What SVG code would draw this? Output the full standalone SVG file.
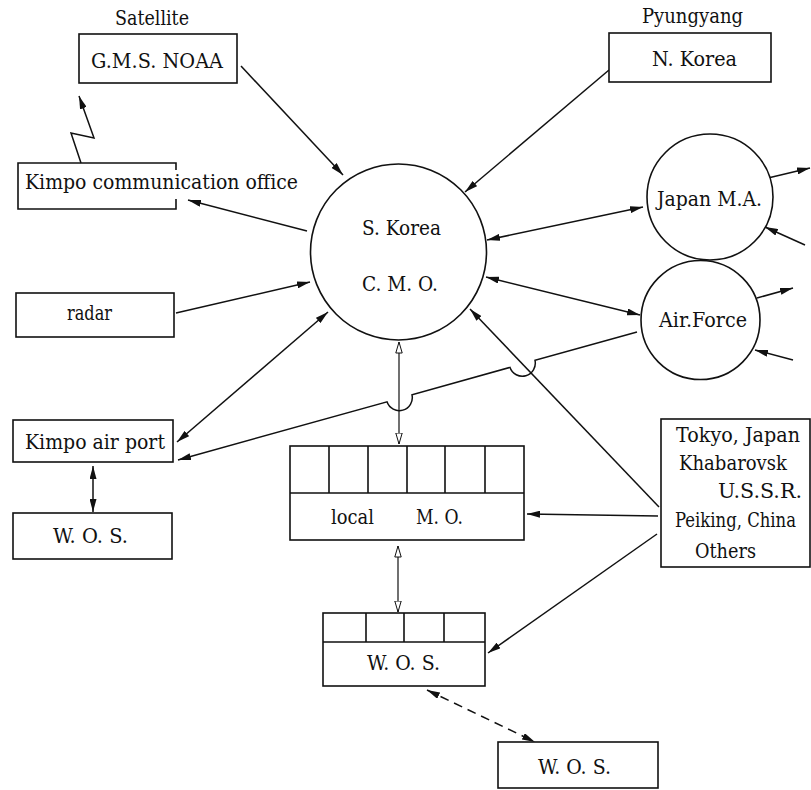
<svg xmlns="http://www.w3.org/2000/svg" width="811" height="790" viewBox="0 0 811 790">
<style>
text{font-family:'DejaVu Serif','Liberation Serif',serif;font-size:21px;fill:#111}
.b{fill:#fff;stroke:#111;stroke-width:1.6}
.c{fill:none;stroke:#111;stroke-width:1.5}
.a{marker-end:url(#ah)}
.d{marker-start:url(#ah);marker-end:url(#ah)}
.h{marker-start:url(#hh);marker-end:url(#hh)}
</style>
<defs>
<marker id="ah" viewBox="0 0 13 7" refX="13" refY="3.5" markerWidth="13" markerHeight="7" markerUnits="userSpaceOnUse" orient="auto-start-reverse">
<path d="M0,0 L13,3.5 L0,7 Z" fill="#111"/>
</marker>
<marker id="hh" viewBox="0 0 12 8" refX="11.5" refY="4" markerWidth="12" markerHeight="8" markerUnits="userSpaceOnUse" orient="auto-start-reverse">
<path d="M0.5,0.8 L11.5,4 L0.5,7.2 Z" fill="#fff" stroke="#111" stroke-width="1"/>
</marker>
</defs>

<g id="connectors">
<line class="c a" x1="241" y1="66" x2="343" y2="175"/>
<line class="c a" x1="609" y1="70" x2="465" y2="192"/>
<line class="c a" x1="307" y1="231" x2="188" y2="200"/>
<line class="c d" x1="487" y1="240" x2="643" y2="207"/>
<line class="c d" x1="486" y1="277" x2="640" y2="315"/>
<line class="c a" x1="176" y1="313" x2="310" y2="282"/>
<line class="c d" x1="328" y1="312" x2="177" y2="442"/>
<path class="c a" d="M637,332 L535,360.4 A13,13 0 0 1 510,367.4 L412,394.8 A13,13 0 0 1 387,401.8 L178,460"/>
<line class="h" stroke="#111" stroke-width="1.2" x1="399" y1="342" x2="399" y2="444"/>
<line class="c a" x1="659" y1="507" x2="470" y2="309"/>
<line class="c a" x1="658" y1="516" x2="527" y2="514"/>
<line class="c a" x1="657" y1="534" x2="488" y2="653"/>
<line class="h" stroke="#111" stroke-width="1.2" x1="398" y1="546" x2="398" y2="612"/>
<line class="c d" stroke-dasharray="9 6" x1="427" y1="690" x2="535" y2="742"/>
<line class="c d" x1="93" y1="466" x2="93" y2="512"/>
<polyline class="c a" points="81,163 71,133 94,138 79,96"/>
<line class="c a" x1="768" y1="178" x2="810" y2="168"/>
<line class="c a" x1="805" y1="245" x2="765" y2="227"/>
<line class="c a" x1="757" y1="298" x2="793" y2="288"/>
<line class="c a" x1="793" y1="360" x2="755" y2="350"/>
</g>

<text x="115" y="25" textLength="74" lengthAdjust="spacingAndGlyphs">Satellite</text>
<g id="gms">
<rect class="b" x="79" y="34" width="158" height="49"/>
<text x="91" y="68" textLength="132" lengthAdjust="spacingAndGlyphs">G.M.S. NOAA</text>
</g>

<text x="642" y="23" textLength="101" lengthAdjust="spacingAndGlyphs">Pyungyang</text>
<g id="nkorea">
<rect class="b" x="609" y="33" width="162" height="49"/>
<text x="652" y="66" textLength="85" lengthAdjust="spacingAndGlyphs">N. Korea</text>
</g>

<g id="kimpo-comm">
<path d="M176,170 V163 H18 V209 H176 V199" fill="none" stroke="#111" stroke-width="1.6"/>
<text x="25" y="189" textLength="273" lengthAdjust="spacingAndGlyphs">Kimpo communication office</text>
</g>

<g id="skorea">
<circle class="b" cx="398.5" cy="252" r="88"/>
<text x="362" y="235" textLength="79" lengthAdjust="spacingAndGlyphs">S. Korea</text>
<text x="362" y="291" textLength="76" lengthAdjust="spacingAndGlyphs">C. M. O.</text>
</g>

<g id="japan">
<circle class="b" cx="710" cy="197" r="63"/>
<text x="657" y="206" textLength="105" lengthAdjust="spacingAndGlyphs">Japan M.A.</text>
</g>

<g id="airforce">
<circle class="b" cx="700.5" cy="320" r="59.5"/>
<text x="659" y="327" textLength="88" lengthAdjust="spacingAndGlyphs">Air.Force</text>
</g>

<g id="radar">
<rect class="b" x="16" y="293" width="158" height="44"/>
<text x="67" y="320" textLength="45" lengthAdjust="spacingAndGlyphs">radar</text>
</g>

<g id="kimpo-air">
<rect class="b" x="13" y="420" width="160" height="42"/>
<text x="25" y="449" textLength="140" lengthAdjust="spacingAndGlyphs">Kimpo air port</text>
</g>

<g id="wos-left">
<rect class="b" x="13" y="513" width="159" height="46"/>
<text x="53" y="543" textLength="75" lengthAdjust="spacingAndGlyphs">W. O. S.</text>
</g>

<g id="local-mo">
<rect class="b" x="290" y="446" width="234" height="94"/>
<path d="M290,493 H524 M329,446 V493 M368,446 V493 M407,446 V493 M445,446 V493 M485,446 V493" stroke="#111" stroke-width="1.6" fill="none"/>
<text x="331" y="524" textLength="43" lengthAdjust="spacingAndGlyphs">local</text>
<text x="416" y="524" textLength="47" lengthAdjust="spacingAndGlyphs">M. O.</text>
</g>

<g id="wos-mid">
<rect class="b" x="323" y="613" width="162" height="73"/>
<path d="M323,642 H485 M366,613 V642 M404,613 V642 M444,613 V642" stroke="#111" stroke-width="1.6" fill="none"/>
<text x="367" y="670" textLength="73" lengthAdjust="spacingAndGlyphs">W. O. S.</text>
</g>

<g id="wos-bottom">
<rect class="b" x="498" y="742" width="160" height="46"/>
<text x="538" y="774" textLength="73" lengthAdjust="spacingAndGlyphs">W. O. S.</text>
</g>

<g id="others">
<rect class="b" x="661" y="419" width="149" height="148"/>
<text x="676" y="442" textLength="124" lengthAdjust="spacingAndGlyphs">Tokyo, Japan</text>
<text x="679" y="470" textLength="108" lengthAdjust="spacingAndGlyphs">Khabarovsk</text>
<text x="718" y="498" textLength="84" lengthAdjust="spacingAndGlyphs">U.S.S.R.</text>
<text x="675" y="527" textLength="121" lengthAdjust="spacingAndGlyphs">Peiking, China</text>
<text x="695" y="558" textLength="61" lengthAdjust="spacingAndGlyphs">Others</text>
</g>
</svg>
